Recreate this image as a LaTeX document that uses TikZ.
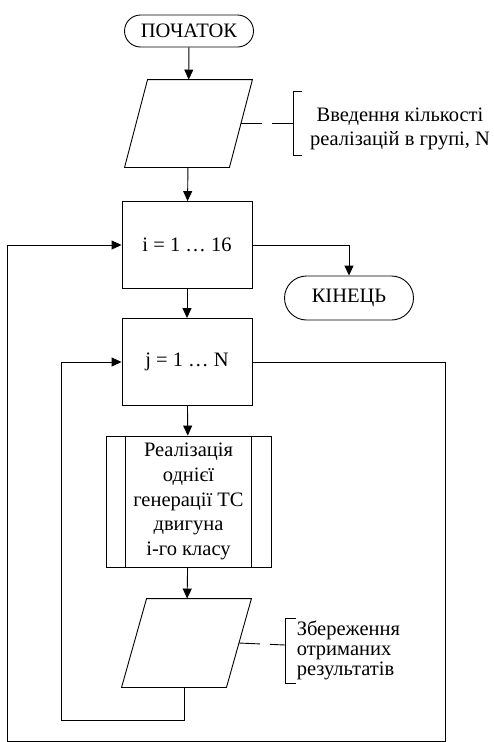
\documentclass[tikz,border=0pt]{standalone}
\usepackage{fontspec}
\setmainfont{Liberation Serif}
\usepackage{tikz}
\usetikzlibrary{arrows.meta,shapes.misc,calc}

\tikzset{
  term/.style={draw, rounded rectangle, minimum width=129pt, inner sep=0pt},
  proc/.style={draw, rectangle, minimum width=130pt, minimum height=87pt, inner sep=0pt},
  io/.style={rectangle, minimum width=127pt, minimum height=87pt, inner sep=0pt},
  flow/.style={-{Triangle[length=10pt,width=9pt]}},
  notelink/.style={dash pattern=on 21pt off 10pt},
  txt/.style={font=\fontsize{20.5}{24.7}\selectfont},
}

% outline of an input/output block: node name, slant
\newcommand{\ioshape}[2]{%
  \draw ($(#1.north west)+(#2,0)$) -- (#1.north east) -- ($(#1.south east)-(#2,0)$)
    -- (#1.south west) -- cycle;}

\begin{document}
\begin{tikzpicture}[x=1pt, y=-1pt, line width=0.9pt, every node/.style={txt}]
    \useasboundingbox (0,0) rectangle (493,742);

    \begin{scope}
      \node[term, minimum height=32pt] (start) at (189,31) {ПОЧАТОК};
      \node[io] (input) at (188.5,123.5) {};
      \node[proc] (loopi) at (187,245) {i = 1 … 16};
      \node[term, minimum height=44pt] (finish) at (349,298) {КІНЕЦЬ};
      \node[proc] (loopj) at (187,362) {j = 1 … N};
      \node[proc, minimum width=165pt, minimum height=131pt, align=center] (sub) at (188.5,501.5)
        {Реалізація\\однієї\\генерації ТС\\двигуна\\і-го класу};
      \node[io, minimum width=129pt, minimum height=88pt] (save) at (186.5,643) {};
    \end{scope}

    \ioshape{input}{23}
    \ioshape{save}{25}

    % side lines of the predefined process
    \draw ($(sub.north west)+(20,0)$) -- ($(sub.south west)+(20,0)$);
    \draw ($(sub.north east)+(-20,0)$) -- ($(sub.south east)+(-20,0)$);

    % comments
    \coordinate (cin) at (293,123.5);
    \coordinate (csave) at (285,645);
    \draw[notelink] ($(input.east)-(11.5,0)$) -- (cin);
    \draw (302,91) -- (293,91) -- (293,155) -- (302,155);
    \node[align=center] (tin) at (400,129) {Введення кількості\\реалізацій в групі, N};
    \draw[notelink] ($(save.east)-(12.5,0)$) -- (csave);
    \draw (296,618) -- (285,618) -- (285,683) -- (296,683);
    \node[align=left, anchor=west, font=\fontsize{20.5}{20}\selectfont] (tsave) at (293,650)
      {Збереження\\отриманих\\результатів};

    % flow
    \draw[flow] (start) -- (input);
    \draw[flow] (input) -- (loopi);
    \draw[flow] (loopi.east) -| (finish.north);
    \draw[flow] (loopi) -- (loopj);
    \draw[flow] (loopj) -- (sub);
    \draw[flow] (sub) -- (save);

    % loops
    \coordinate (jback) at (61,720);
    \coordinate (iback) at (7,741);
    \coordinate (iright) at (445,741);
    \draw[flow] ($(save.south)-(2,0)$) |- (jback) |- (loopj.west);
    \draw[flow] (loopj.east) -| (iright) -- (iback) |- (loopi.west);
  \end{tikzpicture}
\end{document}
